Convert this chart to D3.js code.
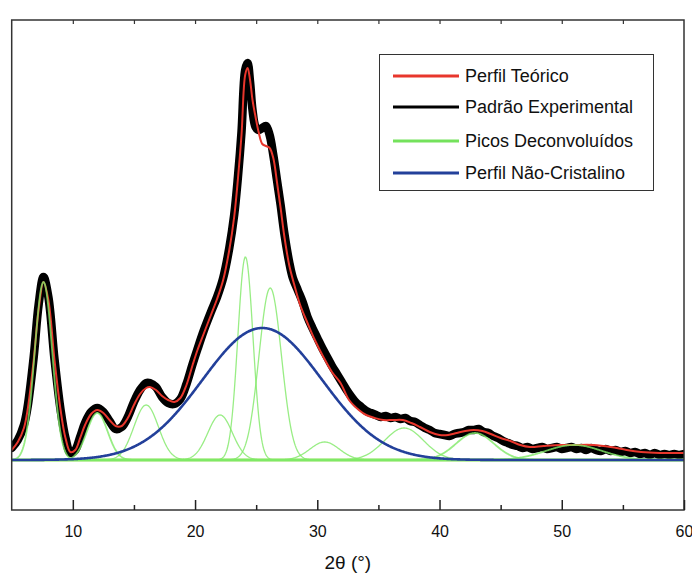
<!DOCTYPE html>
<html>
<head>
<meta charset="utf-8">
<script src="https://cdn.jsdelivr.net/npm/d3@7"></script>
<style>
  html, body { margin: 0; padding: 0; background: #fff; }
  svg { display: block; font-family: "Liberation Sans", Arial, Helvetica, sans-serif; }
</style>
</head>
<body>
<svg id="chart" width="692" height="575"></svg>
<script>
// ---------- DATA ----------
// Theoretical profile (2θ, intensity)
const twoTheta = [5.0,5.5,6.0,6.3,6.8,7.2,7.6,8.0,8.5,9.0,9.4,9.8,10.2,10.6,11.0,11.5,12.0,12.5,13.0,13.5,14.0,14.5,15.0,15.5,16.0,16.3,16.8,17.3,17.8,18.3,18.8,19.3,19.8,20.2,20.7,21.3,21.8,22.3,22.8,23.2,23.5,23.8,24.1,24.3,24.5,24.7,24.95,25.2,25.5,25.8,26.1,26.4,26.7,27.0,27.3,27.7,28.1,28.6,29.2,29.8,30.5,31.2,31.9,32.6,33.4,34.0,34.7,35.4,36.2,37.0,37.7,38.4,39.2,40.0,40.7,41.4,42.1,42.8,43.5,44.2,45.0,45.8,46.6,47.4,48.5,49.9,51.0,52.6,54.0,55.3,56.5,58.0,59.0,60.0];
const perfilTeorico = [10,18,32,50,100,150,178,160,100,50,22,8,10,22,35,46,50,47,40,34,34,42,55,66,72,73,70,64,60,58,62,75,95,110,126,145,161,180,210,243,280,325,385,392,380,360,343,328,316,314,312,302,278,252,224,195,176,155,137,120,103,88,77,60,50,45,42,40,40,40,37,33,28,25,25,27,29,30,29,26,22,19,15,13,14,15,15,15,13,10,8,7,7,7];

// Experimental pattern (2θ, intensity)
const expTheta = [5.0,5.5,6.0,6.3,6.8,7.2,7.6,8.0,8.5,9.0,9.4,9.8,10.2,10.6,11.0,11.5,12.0,12.5,13.0,13.5,14.0,14.5,15.0,15.5,16.0,16.3,16.8,17.3,17.8,18.3,18.8,19.3,19.8,20.2,20.7,21.3,21.8,22.3,22.8,23.2,23.5,23.8,24.1,24.3,24.5,24.7,24.95,25.2,25.5,25.8,26.1,26.4,26.7,27.0,27.3,27.7,28.0,28.4,28.8,29.2,29.6,30.0,30.4,30.8,31.2,31.6,32.0,32.4,32.8,33.2,33.6,34.0,34.4,34.8,35.2,35.6,36.0,36.4,36.8,37.2,37.6,38.0,38.4,38.8,39.2,39.6,40.0,40.4,40.8,41.2,41.6,42.0,42.4,42.8,43.2,43.6,44.0,44.4,44.8,45.2,45.6,46.0,46.4,46.8,47.2,47.6,48.0,48.4,48.8,49.2,49.6,50.0,50.4,50.8,51.2,51.6,52.0,52.4,52.8,53.2,53.6,54.0,54.4,54.8,55.2,55.6,56.0,56.4,56.8,57.2,57.6,58.0,58.4,58.8,59.2,59.6,60.0];
const padraoExperimental = [12,20,35,53,103,155,183,163,101,50,22,7,10,23,37,48,52,48,39,31,33,43,58,70,77,77,73,63,57,56,61,76,96,111,129,148,163,182,212,245,282,328,390,397,378,350,333,330,332,334,325,305,280,255,227,198,182,170,158,143,132,122,112,103,94,86,78,70,63,57,53,49,47,45,43,44,42,43,41,42,39,38,35,32,30,27,26,25,24,26,27,28,30,30,31,28,27,24,22,19,17,15,14,12,13,11,12,13,11,12,13,11,12,13,11,12,10,12,10,9,11,9,10,8,9,7,8,6,7,5,7,5,6,5,6,5,6];

// Deconvoluted peaks: centre (2θ), height, width (σ)
const picosCentro = [7.6, 12.0, 16.0, 22.05, 24.12, 26.15, 30.6, 37.1, 42.9, 51.0];
const picosAltura = [178, 47, 55, 45, 203, 172, 18, 32, 27, 15];
const picosSigma  = [0.72, 0.85, 1.0, 1.0, 0.62, 0.92, 1.2, 1.6, 1.55, 2.3];

// Non-crystalline profile: centre, height, width
const amorfoCentro = 25.5, amorfoAltura = 132, amorfoSigma = 4.9;

const xTicksMajor = [10, 20, 30, 40, 50, 60];
const xTicksMinor = [15, 25, 35, 45, 55];
const xTicksTop = [10, 15, 20, 25, 30, 35, 40, 45, 50, 55];

const legendLabels = ["Perfil Teórico", "Padrão Experimental", "Picos Deconvoluídos", "Perfil Não-Cristalino"];
const legendColors = ["#e8362c", "#000000", "#74e25c", "#23409a"];

// ---------- CHART ----------
const svg = d3.select("#chart");
const L = 11.7, R = 684, T = 20, B = 510;
const x = d3.scaleLinear().domain([5, 60]).range([L, R]);
const y = d3.scaleLinear().domain([-50, 440]).range([B, T]);

const gauss = (c, h, s) => t => h * Math.exp(-((t - c) * (t - c)) / (2 * s * s));
const fine = d3.range(5, 60.001, 0.05);

svg.append("clipPath").attr("id", "clip").append("rect")
  .attr("x", L).attr("y", T).attr("width", R - L).attr("height", B - T);
const plot = svg.append("g").attr("clip-path", "url(#clip)");

const smooth = d3.line().x(d => x(d[0])).y(d => y(d[1])).curve(d3.curveCatmullRom.alpha(0.5));
const plain = d3.line().x(d => x(d[0])).y(d => y(d[1]));

// experimental (thick black)
plot.append("path")
  .datum(expTheta.map((t, i) => [t, padraoExperimental[i]]))
  .attr("d", smooth)
  .attr("fill", "none").attr("stroke", "#000").attr("stroke-width", 8.5)
  .attr("stroke-linejoin", "round").attr("stroke-linecap", "round");

// theoretical (red)
plot.append("path")
  .datum(twoTheta.map((t, i) => [t, perfilTeorico[i]]))
  .attr("d", smooth)
  .attr("fill", "none").attr("stroke", "#e8362c").attr("stroke-width", 2);

// green baseline
plot.append("line")
  .attr("x1", x(5)).attr("x2", x(60)).attr("y1", y(0)).attr("y2", y(0))
  .attr("stroke", "#7ddf48").attr("stroke-width", 3);

// deconvoluted peaks
picosCentro.forEach((c, i) => {
  const f = gauss(c, picosAltura[i], picosSigma[i]);
  plot.append("path")
    .datum(fine.map(t => [t, f(t)]))
    .attr("d", plain)
    .attr("fill", "none").attr("stroke", "#7fe866").attr("stroke-opacity", 0.8)
    .attr("stroke-width", (i === 0 || i === 1 || i === 8 || i === 9) ? 1.8 : 1.3);
});

// amorphous (blue)
const fa = gauss(amorfoCentro, amorfoAltura, amorfoSigma);
plot.append("path")
  .datum(fine.map(t => [t, fa(t)]))
  .attr("d", plain)
  .attr("fill", "none").attr("stroke", "#23409a").attr("stroke-width", 2.6);

// frame
svg.append("rect").attr("x", L).attr("y", T).attr("width", R - L).attr("height", B - T)
  .attr("fill", "none").attr("stroke", "#333").attr("stroke-width", 1.5);

// axes
const axB = svg.append("g").attr("transform", `translate(0,${B})`)
  .call(d3.axisBottom(x).tickValues(xTicksMajor).tickSize(-10).tickPadding(16).tickFormat(d3.format("d")));
axB.select(".domain").remove();
axB.selectAll("text").attr("font-size", 16).attr("fill", "#111").attr("font-family", "Liberation Sans, Arial, sans-serif");
axB.selectAll("line").attr("stroke", "#222").attr("stroke-width", 1.5);

const axBm = svg.append("g").attr("transform", `translate(0,${B})`)
  .call(d3.axisBottom(x).tickValues(xTicksMinor).tickSize(-5).tickFormat(""));
axBm.select(".domain").remove();
axBm.selectAll("line").attr("stroke", "#222").attr("stroke-width", 1.5);

const axT = svg.append("g").attr("transform", `translate(0,${T})`)
  .call(d3.axisTop(x).tickValues(xTicksTop).tickSize(-4).tickFormat(""));
axT.select(".domain").remove();
axT.selectAll("line").attr("stroke", "#333").attr("stroke-width", 1.2);

svg.append("text").attr("x", (L + R) / 2).attr("y", 569).attr("text-anchor", "middle")
  .attr("font-size", 19).attr("fill", "#111").text("2θ (°)");

// legend
const lg = svg.append("g");
lg.append("rect").attr("x", 379.5).attr("y", 54.5).attr("width", 274).attr("height", 136)
  .attr("fill", "#fff").attr("stroke", "#333").attr("stroke-width", 1);
const rowsY = [76, 107, 141, 173];
legendLabels.forEach((lab, i) => {
  lg.append("line").attr("x1", 393).attr("x2", 459).attr("y1", rowsY[i]).attr("y2", rowsY[i])
    .attr("stroke", legendColors[i]).attr("stroke-width", 3.2);
  lg.append("text").attr("x", 465).attr("y", rowsY[i]).attr("dy", "0.36em")
    .attr("font-size", 18).attr("fill", "#111").text(lab);
});
</script>
</body>
</html>
